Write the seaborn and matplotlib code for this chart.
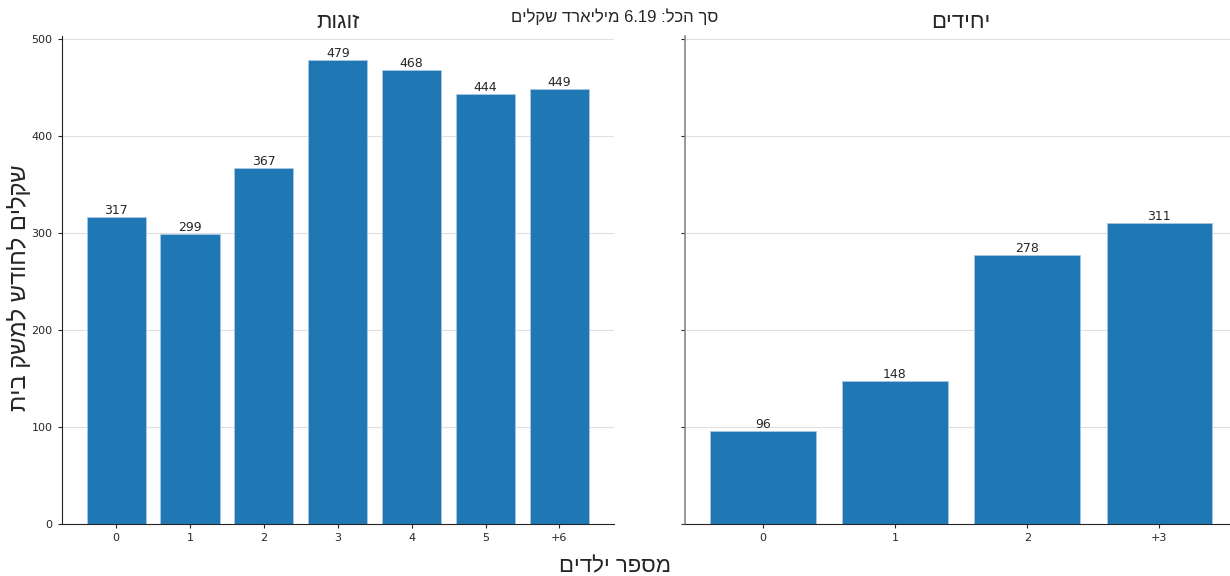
import re
import matplotlib
matplotlib.use("Agg")
import matplotlib.pyplot as plt
import seaborn as sns
import pandas as pd

# נתונים
couples_kids = ["0", "1", "2", "3", "4", "5", "6+"]
couples_vals = [317, 299, 367, 479, 468, 444, 449]
singles_kids = ["0", "1", "2", "3+"]
singles_vals = [96, 148, 278, 311]

title_couples = "זוגות"
title_singles = "יחידים"
sup_title = "סך הכל: 6.19 מיליארד שקלים"
x_label = "מספר ילדים"
y_label = "שקלים לחודש למשק בית"


def rtl(s):
    # matplotlib draws left-to-right, so flip the string and put numbers back
    return re.sub(r"[\d.]+", lambda m: m.group()[::-1], s[::-1])


sns.set_style("ticks")
plt.rcParams["font.family"] = ["DejaVu Sans"]
heb = ["Liberation Sans", "DejaVu Sans"]

color = "#1f77b4"
fig, axes = plt.subplots(1, 2, figsize=(12.3, 5.76), dpi=100, sharey=True)
fig.subplots_adjust(left=0.05, right=1.006, bottom=0.09, top=0.937, wspace=0.128)

panels = [
    (axes[0], couples_kids, couples_vals, title_couples),
    (axes[1], singles_kids, singles_vals, title_singles),
]
for ax, kids, vals, title in panels:
    df = pd.DataFrame({"kids": [rtl(k) for k in kids], "value": vals})
    sns.barplot(data=df, x="kids", y="value", ax=ax, color=color,
                saturation=1, width=0.8, edgecolor="#a9c8e3", linewidth=0.6)
    # back to matplotlib's default 5% side margins
    ax.set_autoscalex_on(True)
    ax.margins(x=0.05)
    ax.autoscale_view(scalex=True, scaley=False)
    ax.bar_label(ax.containers[0], labels=[str(v) for v in vals],
                 fontsize=9, padding=0)
    ax.set_title(rtl(title), fontsize=16, pad=6, family=heb)
    ax.set_xlabel("")
    ax.set_ylabel("")
    ax.yaxis.grid(True, color="#e0e0e0", linewidth=0.8)
    ax.set_axisbelow(True)
    ax.tick_params(axis="both", labelsize=8, length=3)
    sns.despine(ax=ax)

axes[0].spines["left"].set_color("#222222")
axes[1].spines["left"].set_color("#888888")
axes[1].spines["left"].set_linewidth(1.2)
axes[0].set_ylim(0, 503)
axes[0].set_yticks([0, 100, 200, 300, 400, 500])

fig.suptitle(rtl(sup_title), fontsize=12, y=0.985, family=heb)
fig.supxlabel(rtl(x_label), fontsize=16, y=-0.002, family=heb)
fig.supylabel(rtl(y_label), fontsize=17, x=0.006, family=heb)

plt.savefig("out.png", dpi=100)
